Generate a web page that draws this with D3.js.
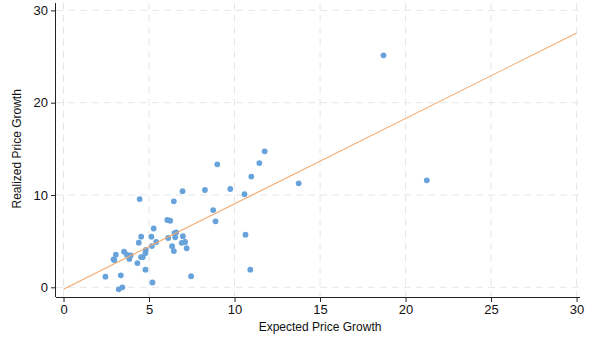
<!DOCTYPE html>
<html>
<head>
<meta charset="utf-8">
<script src="https://cdn.jsdelivr.net/npm/d3@7"></script>
<style>
  body { margin: 0; background: #fff; }
  svg { display: block; font-family: "Liberation Sans", Arial, sans-serif; }
  .grid line { stroke: #e6e6e6; stroke-dasharray: 7,5; }
  .axis path, .axis line { stroke: #222; }
  .axis text { font-size: 13px; fill: #111; }
</style>
</head>
<body>
<div id="chart"></div>
<script>
// expected vs realized price growth, one entry per point
var expectedGrowth = [18.71, 21.24, 13.75, 11.76, 11.45, 8.99, 10.98, 10.58, 9.75, 8.27,
  6.96, 6.45, 4.45, 8.75, 8.89, 6.07, 6.24, 5.27, 6.59, 6.49,
  6.12, 6.98, 6.53, 5.14, 4.54, 5.42, 6.91, 7.11, 5.17, 6.35,
  7.20, 6.45, 4.79, 4.81, 4.53, 4.64, 4.40, 3.06, 2.92, 2.97,
  3.54, 3.70, 3.93, 3.85, 4.32, 4.79, 2.45, 3.35, 3.23, 3.44,
  5.20, 7.46, 10.64, 10.92]
var realizedGrowth = [25.13, 11.59, 11.26, 14.73, 13.46, 13.32, 12.0, 10.08, 10.65, 10.54,
  10.41, 9.31, 9.56, 8.37, 7.15, 7.29, 7.21, 6.37, 5.96, 5.88,
  5.34, 5.53, 5.42, 5.48, 5.48, 4.91, 4.82, 4.91, 4.47, 4.45,
  4.23, 3.93, 3.69, 4.04, 3.28, 3.28, 4.83, 3.53, 3.03, 2.96,
  3.86, 3.53, 3.47, 3.07, 2.63, 1.91, 1.15, 1.30, -0.22, 0.0,
  0.52, 1.20, 5.70, 1.91]

// fitted line
var fitIntercept = -0.2
var fitSlope = 0.925
var fitRange = [0, 30]

var xTicks = [0, 5, 10, 15, 20, 25, 30]
var yTicks = [0, 10, 20, 30]

var W = 592, H = 338
var margin = {top: 3, right: 12, bottom: 41, left: 56}
var w = W - margin.left - margin.right
var h = H - margin.top - margin.bottom

var svg = d3.select('#chart').append('svg')
    .attr('width', W)
    .attr('height', H)

var g = svg.append('g')
    .attr('transform', 'translate(' + margin.left + ',' + margin.top + ')')

var x = d3.scaleLinear().domain([-0.44, 30.2]).range([0, w])
var y = d3.scaleLinear().domain([-1.05, 30.8]).range([h, 0])

// grid
g.append('g').attr('class', 'grid')
    .selectAll('line.gx').data(xTicks).enter().append('line')
    .attr('x1', function(d){ return x(d) }).attr('x2', function(d){ return x(d) })
    .attr('y1', 0).attr('y2', h)
g.append('g').attr('class', 'grid')
    .selectAll('line.gy').data(yTicks).enter().append('line')
    .attr('y1', function(d){ return y(d) }).attr('y2', function(d){ return y(d) })
    .attr('x1', 0).attr('x2', w)

// points
var pts = expectedGrowth.map(function(d, i){ return {x: d, y: realizedGrowth[i]} })
g.selectAll('circle.pt').data(pts).enter().append('circle')
    .attr('class', 'pt')
    .attr('cx', function(d){ return x(d.x) })
    .attr('cy', function(d){ return y(d.y) })
    .attr('r', 2.9)
    .attr('fill', '#67a3da')

// fit line
g.append('line')
    .attr('x1', x(fitRange[0])).attr('y1', y(fitIntercept + fitSlope*fitRange[0]))
    .attr('x2', x(fitRange[1])).attr('y2', y(fitIntercept + fitSlope*fitRange[1]))
    .attr('stroke', '#f3a96c')
    .attr('stroke-width', 1.1)

// axes
var xAxis = g.append('g').attr('class', 'axis')
    .attr('transform', 'translate(0,' + h + ')')
    .call(d3.axisBottom(x).tickValues(xTicks).tickSize(5).tickPadding(3).tickSizeOuter(0))
var yAxis = g.append('g').attr('class', 'axis')
    .call(d3.axisLeft(y).tickValues(yTicks).tickSize(5).tickPadding(3).tickSizeOuter(0))

xAxis.select('.domain').attr('d', 'M0,0.5H' + w)
yAxis.select('.domain').attr('d', 'M-0.5,0V' + h)

svg.append('text')
    .attr('x', margin.left + x(15))
    .attr('y', 331)
    .attr('text-anchor', 'middle')
    .attr('font-size', 12)
    .attr('fill', '#111')
    .text('Expected Price Growth')

svg.append('text')
    .attr('transform', 'translate(21,' + (margin.top + y(15)) + ') rotate(-90)')
    .attr('text-anchor', 'middle')
    .attr('font-size', 12)
    .attr('fill', '#111')
    .text('Realized Price Growth')
</script>
</body>
</html>
